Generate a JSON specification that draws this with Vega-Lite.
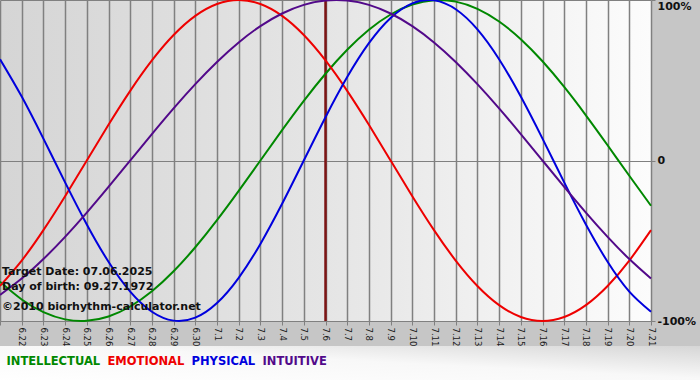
{
  "$schema": "https://vega.github.io/schema/vega-lite/v6.json",
  "background": "#c6c6c6",
  "padding": {"left": -5, "top": -5, "right": 0, "bottom": 0},
  "spacing": 0,
  "config": {"view": {"stroke": null}, "font": "DejaVu Sans"},
  "datasets": {
    "bio": [
      {"date": "2025-06-21", "INTELLECTUAL": -0.7557, "EMOTIONAL": -0.7818, "PHYSICAL": 0.6311, "INTUITIVE": -0.8372},
      {"date": "2025-06-22", "INTELLECTUAL": -0.8660, "EMOTIONAL": -0.6235, "PHYSICAL": 0.3984, "INTUITIVE": -0.7357},
      {"date": "2025-06-23", "INTELLECTUAL": -0.9450, "EMOTIONAL": -0.4339, "PHYSICAL": 0.1362, "INTUITIVE": -0.6142},
      {"date": "2025-06-24", "INTELLECTUAL": -0.9898, "EMOTIONAL": -0.2225, "PHYSICAL": -0.1362, "INTUITIVE": -0.4759},
      {"date": "2025-06-25", "INTELLECTUAL": -0.9989, "EMOTIONAL": 0.0, "PHYSICAL": -0.3984, "INTUITIVE": -0.3247},
      {"date": "2025-06-26", "INTELLECTUAL": -0.9718, "EMOTIONAL": 0.2225, "PHYSICAL": -0.6311, "INTUITIVE": -0.1646},
      {"date": "2025-06-27", "INTELLECTUAL": -0.9096, "EMOTIONAL": 0.4339, "PHYSICAL": -0.8170, "INTUITIVE": 0.0},
      {"date": "2025-06-28", "INTELLECTUAL": -0.8146, "EMOTIONAL": 0.6235, "PHYSICAL": -0.9423, "INTUITIVE": 0.1646},
      {"date": "2025-06-29", "INTELLECTUAL": -0.6901, "EMOTIONAL": 0.7818, "PHYSICAL": -0.9977, "INTUITIVE": 0.3247},
      {"date": "2025-06-30", "INTELLECTUAL": -0.5406, "EMOTIONAL": 0.9010, "PHYSICAL": -0.9791, "INTUITIVE": 0.4759},
      {"date": "2025-07-01", "INTELLECTUAL": -0.3717, "EMOTIONAL": 0.9749, "PHYSICAL": -0.8879, "INTUITIVE": 0.6142},
      {"date": "2025-07-02", "INTELLECTUAL": -0.1893, "EMOTIONAL": 1.0, "PHYSICAL": -0.7308, "INTUITIVE": 0.7357},
      {"date": "2025-07-03", "INTELLECTUAL": 0.0, "EMOTIONAL": 0.9749, "PHYSICAL": -0.5196, "INTUITIVE": 0.8372},
      {"date": "2025-07-04", "INTELLECTUAL": 0.1893, "EMOTIONAL": 0.9010, "PHYSICAL": -0.2698, "INTUITIVE": 0.9158},
      {"date": "2025-07-05", "INTELLECTUAL": 0.3717, "EMOTIONAL": 0.7818, "PHYSICAL": 0.0, "INTUITIVE": 0.9694},
      {"date": "2025-07-06", "INTELLECTUAL": 0.5406, "EMOTIONAL": 0.6235, "PHYSICAL": 0.2698, "INTUITIVE": 0.9966},
      {"date": "2025-07-07", "INTELLECTUAL": 0.6901, "EMOTIONAL": 0.4339, "PHYSICAL": 0.5196, "INTUITIVE": 0.9966},
      {"date": "2025-07-08", "INTELLECTUAL": 0.8146, "EMOTIONAL": 0.2225, "PHYSICAL": 0.7308, "INTUITIVE": 0.9694},
      {"date": "2025-07-09", "INTELLECTUAL": 0.9096, "EMOTIONAL": 0.0, "PHYSICAL": 0.8879, "INTUITIVE": 0.9158},
      {"date": "2025-07-10", "INTELLECTUAL": 0.9718, "EMOTIONAL": -0.2225, "PHYSICAL": 0.9791, "INTUITIVE": 0.8372},
      {"date": "2025-07-11", "INTELLECTUAL": 0.9989, "EMOTIONAL": -0.4339, "PHYSICAL": 0.9977, "INTUITIVE": 0.7357},
      {"date": "2025-07-12", "INTELLECTUAL": 0.9898, "EMOTIONAL": -0.6235, "PHYSICAL": 0.9423, "INTUITIVE": 0.6142},
      {"date": "2025-07-13", "INTELLECTUAL": 0.9450, "EMOTIONAL": -0.7818, "PHYSICAL": 0.8170, "INTUITIVE": 0.4759},
      {"date": "2025-07-14", "INTELLECTUAL": 0.8660, "EMOTIONAL": -0.9010, "PHYSICAL": 0.6311, "INTUITIVE": 0.3247},
      {"date": "2025-07-15", "INTELLECTUAL": 0.7557, "EMOTIONAL": -0.9749, "PHYSICAL": 0.3984, "INTUITIVE": 0.1646},
      {"date": "2025-07-16", "INTELLECTUAL": 0.6182, "EMOTIONAL": -1.0, "PHYSICAL": 0.1362, "INTUITIVE": 0.0},
      {"date": "2025-07-17", "INTELLECTUAL": 0.4582, "EMOTIONAL": -0.9749, "PHYSICAL": -0.1362, "INTUITIVE": -0.1646},
      {"date": "2025-07-18", "INTELLECTUAL": 0.2817, "EMOTIONAL": -0.9010, "PHYSICAL": -0.3984, "INTUITIVE": -0.3247},
      {"date": "2025-07-19", "INTELLECTUAL": 0.0951, "EMOTIONAL": -0.7818, "PHYSICAL": -0.6311, "INTUITIVE": -0.4759},
      {"date": "2025-07-20", "INTELLECTUAL": -0.0951, "EMOTIONAL": -0.6235, "PHYSICAL": -0.8170, "INTUITIVE": -0.6142},
      {"date": "2025-07-21", "INTELLECTUAL": -0.2817, "EMOTIONAL": -0.4339, "PHYSICAL": -0.9423, "INTUITIVE": -0.7357}
    ],
    "names": [
      {"s": "INTELLECTUAL"}, {"s": "EMOTIONAL"}, {"s": "PHYSICAL"}, {"s": "INTUITIVE"}
    ],
    "notes": [
      {"t": "Target Date: 07.06.2025", "date": "2025-06-21", "v": -0.695},
      {"t": "Day of birth: 09.27.1972", "date": "2025-06-21", "v": -0.79},
      {"t": "©2010 biorhythm-calculator.net", "date": "2025-06-21", "v": -0.915}
    ],
    "target": [{"date": "2025-07-06"}]
  },
  "vconcat": [
    {
      "width": 651,
      "height": 321,
      "view": {
        "stroke": null,
        "fill": {
          "gradient": "linear", "x1": 0, "y1": 0, "x2": 1, "y2": 0,
          "stops": [
            {"offset": 0, "color": "#d5d5d5"},
            {"offset": 0.5, "color": "#e5e5e5"},
            {"offset": 1, "color": "#fcfcfc"}
          ]
        }
      },
      "encoding": {
        "x": {
          "field": "date", "type": "temporal",
          "scale": {"type": "utc", "nice": false, "domain": [{"year": 2025, "month": 6, "date": 21, "utc": true}, {"year": 2025, "month": 7, "date": 21, "utc": true}]},
          "axis": {
            "format": "%-m.%-d",
            "labelExpr": "datum.label == '6.21' ? '' : datum.label",
            "tickCount": {"interval": "day", "step": 1},
            "labelAngle": 90,
            "labelFontSize": 8.5,
            "labelColor": "#1a1a1a",
            "labelPadding": 2,
            "labelOverlap": false,
            "labelFlush": false,
            "labelBound": false,
            "tickSize": 4,
            "tickColor": "#808080",
            "domainColor": "#808080",
            "grid": true,
            "gridColor": "#808080",
            "gridWidth": 1.5,
            "gridOpacity": 1,
            "title": null
          }
        }
      },
      "layer": [
        {
          "data": {"name": "target"},
          "mark": {"type": "rule", "color": "#7d1414", "strokeWidth": 2.5}
        },
        {
          "data": {"name": "bio"},
          "transform": [{"fold": ["INTELLECTUAL", "EMOTIONAL", "PHYSICAL", "INTUITIVE"], "as": ["series", "value"]}],
          "mark": {"type": "line", "interpolate": "natural", "strokeWidth": 2},
          "encoding": {
            "y": {
              "field": "value", "type": "quantitative",
              "scale": {"domain": [-1, 1], "nice": false, "zero": false},
              "axis": {
                "orient": "right",
                "values": [-1, 0, 1],
                "labelExpr": "datum.value == 0 ? '0' : (datum.value < 0 ? '-' : '') + format(abs(datum.value), '.0%')",
                "grid": true,
                "gridColor": "#808080",
                "gridWidth": 1,
                "gridOpacity": 1,
                "domain": false,
                "tickSize": 4,
                "tickColor": "#808080",
                "labelFontWeight": "bold",
                "labelFontSize": 11,
                "labelColor": "#111111",
                "labelPadding": 2,
                "labelFlush": false,
                "labelBound": false,
                "labelBaseline": {"condition": {"test": "datum.value == 1", "value": "top"}, "value": "middle"},
                "title": null
              }
            },
            "color": {
              "field": "series", "type": "nominal",
              "scale": {"domain": ["INTELLECTUAL", "EMOTIONAL", "PHYSICAL", "INTUITIVE"], "range": ["#008800", "#ee0000", "#0000dd", "#52098a"]},
              "legend": null
            }
          }
        },
        {
          "data": {"name": "notes"},
          "mark": {"type": "text", "align": "left", "baseline": "middle", "dx": 2, "fontWeight": "bold", "fontSize": 11, "color": "#111111"},
          "encoding": {
            "y": {"field": "v", "type": "quantitative"},
            "text": {"field": "t"}
          }
        }
      ]
    },
    {
      "width": 700,
      "height": 36,
      "view": {
        "stroke": null,
        "fill": {
          "gradient": "linear", "x1": 0, "y1": 1, "x2": 1, "y2": 0,
          "stops": [
            {"offset": 0, "color": "#ffffff"},
            {"offset": 0.55, "color": "#f8f8f8"},
            {"offset": 1, "color": "#d6d6d6"}
          ]
        }
      },
      "data": {"name": "names"},
      "mark": {"type": "point", "opacity": 0},
      "encoding": {
        "color": {
          "field": "s", "type": "nominal",
          "scale": {"domain": ["INTELLECTUAL", "EMOTIONAL", "PHYSICAL", "INTUITIVE"], "range": ["#008800", "#ee0000", "#0000dd", "#52098a"]},
          "legend": {
            "orient": "none",
            "legendX": 0,
            "legendY": 4,
            "direction": "horizontal",
            "title": null,
            "symbolSize": 1,
            "symbolStrokeWidth": 0,
            "symbolOpacity": 0,
            "labelOffset": -5,
            "columnPadding": 0,
            "labelFont": "DejaVu Sans",
            "labelFontSize": 11.5,
            "labelFontWeight": "bold",
            "labelBaseline": "top",
            "labelLimit": 300,
            "labelColor": {"expr": "datum.value == 'INTELLECTUAL' ? '#008800' : datum.value == 'EMOTIONAL' ? '#ee0000' : datum.value == 'PHYSICAL' ? '#0000dd' : '#52098a'"}
          }
        }
      }
    }
  ],
  "resolve": {"scale": {"color": "independent"}, "legend": {"color": "independent"}}
}
